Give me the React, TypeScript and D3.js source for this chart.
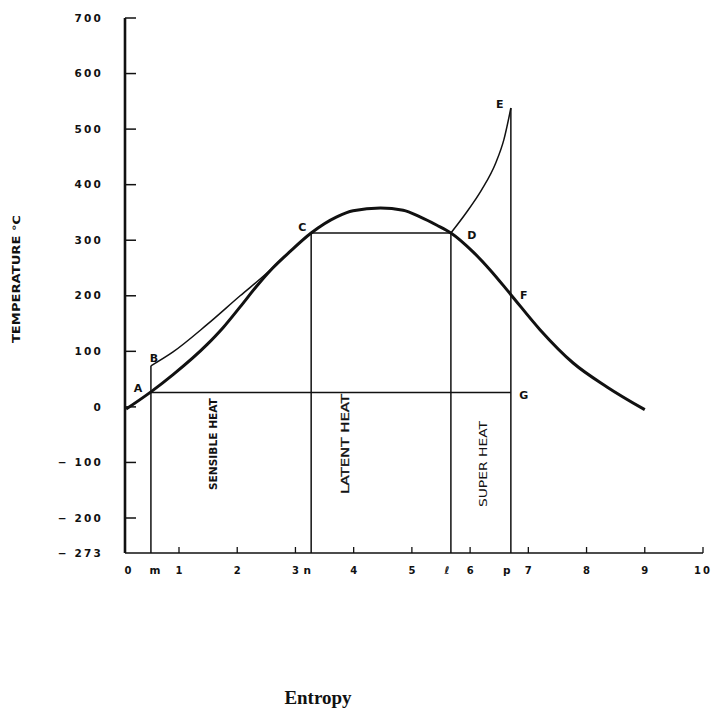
import React from 'react';
import * as d3 from 'd3';

// axis ticks
const yTickValues = [700, 600, 500, 400, 300, 200, 100, 0, -100, -200, -273];
const yTickLabels = ['700', '600', '500', '400', '300', '200', '100', '0', '− 100', '− 200', '− 273'];
const xTickValues = [0, 1, 2, 3, 4, 5, 6, 7, 8, 9, 10];
const xTickLabels = ['0', '1', '2', '3', '4', '5', '6', '7', '8', '9', '10'];

// state entropies marked on the axis (m, n, l, p)
const stateLetters = ['m', 'n', 'ℓ', 'p'];
const stateEntropy = [0.48, 3.27, 5.67, 6.7];
const stateTopTemp = [74, 313, 313, 538];

// saturation dome (thick curve)
const domeEntropy = [0.02, 0.48, 0.89, 1.48, 1.76, 2.05, 2.34, 2.61, 2.91, 3.27, 3.71, 3.99, 4.46, 4.85, 5.14, 5.43, 5.67, 6.05, 6.34, 6.7, 7.2, 7.77, 8.35, 9.0];
const domeTemp = [-4, 27, 58, 112, 143, 180, 218, 250, 280, 313, 342, 353, 358, 354, 342, 327, 313, 279, 247, 202, 139, 79, 36, -5];

// heating line from B
const liquidEntropy = [0.48, 0.89, 1.48, 2.05, 2.5, 2.75];
const liquidTemp = [74, 99, 148, 200, 240, 265];

// superheat curve D -> E
const superEntropy = [5.67, 5.93, 6.2, 6.44, 6.58, 6.7];
const superTemp = [313, 349, 391, 439, 481, 538];

// constant-temperature lines
const evapTemp = 26;
const boilTemp = 313;

// lettered points
const pointNames = ['A', 'B', 'C', 'D', 'E', 'F', 'G'];
const pointEntropy = [0.48, 0.48, 3.27, 5.67, 6.7, 6.7, 6.7];
const pointTemp = [26, 74, 313, 313, 538, 202, 26];

// zone captions
const zoneNames = ['SENSIBLE HEAT', 'LATENT HEAT', 'SUPER HEAT'];
const zoneEntropy = [1.58, 3.85, 6.22];
const zoneTemp = [-67, -67, -103];

const sans = '"DejaVu Sans", "Liberation Sans", Arial, sans-serif';
const narrow = '"DejaVu Sans Condensed", "Liberation Sans Narrow", "DejaVu Sans", sans-serif';

export default function App() {
  const width = 721;
  const height = 711;

  const x = d3.scaleLinear().domain([0, 1, 10]).range([125, 179, 703]);
  const y = d3.scaleLinear().domain([-273, -200, 700]).range([553, 518, 18]);

  const zip = (a: number[], b: number[]): [number, number][] => a.map((v, i) => [v, b[i]]);
  const line = d3.line<[number, number]>()
    .x(d => x(d[0]))
    .y(d => y(d[1]))
    .curve(d3.curveMonotoneX);

  const bottom = y(-273);

  // label offsets (px) for the lettered points
  const pointOffset: Record<string, [number, number]> = {
    A: [-13, -4], B: [3, -8], C: [-9, -6], D: [21, 2], E: [-11, -4], F: [13, 0], G: [13, 3],
  };

  return (
    <svg width={width} height={height} style={{position: 'absolute', left: 0, top: 0, background: '#fff'}}>
      {/* y axis */}
      <line x1={x(0)} x2={x(0)} y1={y(700)} y2={bottom} stroke="#111" strokeWidth={2.6} />
      {yTickValues.filter(v => v > -273).map(v => (
        <line key={'yt' + v} x1={x(0)} x2={x(0) + 11} y1={y(v)} y2={y(v)} stroke="#111" strokeWidth={1.5} />
      ))}
      {yTickValues.map((v, i) => (
        <text key={'yl' + v} x={103} y={y(v)} dy="0.35em" textAnchor="end"
          fontFamily={sans} fontWeight="bold" fontSize={10.5} letterSpacing={2.2} fill="#111">
          {yTickLabels[i]}
        </text>
      ))}
      <text transform={`translate(20, ${y(230)}) rotate(-90)`} textAnchor="middle"
        fontFamily={sans} fontWeight="bold" fontSize={10} fill="#111"
        textLength={128} lengthAdjust="spacingAndGlyphs">
        TEMPERATURE ℃
      </text>

      {/* x axis */}
      <line x1={x(0)} x2={x(10)} y1={bottom} y2={bottom} stroke="#111" strokeWidth={1.6} />
      {xTickValues.filter(v => v > 0).map(v => (
        <line key={'xt' + v} x1={x(v)} x2={x(v)} y1={bottom} y2={bottom - 6} stroke="#111" strokeWidth={1.3} />
      ))}
      {xTickValues.map((v, i) => (
        <text key={'xl' + v} x={x(v) + (v === 0 ? 3 : 0)} y={bottom + 21} textAnchor="middle"
          fontFamily={sans} fontWeight="bold" fontSize={10} letterSpacing={v === 10 ? 2 : 0} fill="#111">
          {xTickLabels[i]}
        </text>
      ))}
      {stateLetters.map((s, i) => (
        <text key={'sl' + s} x={x(stateEntropy[i]) + (i === 0 ? 4 : -4)} y={bottom + 21} textAnchor="middle"
          fontFamily={sans} fontWeight="bold" fontSize={10.5} fontStyle={s === 'ℓ' ? 'italic' : 'normal'} fill="#111">
          {s}
        </text>
      ))}

      {/* vertical state lines */}
      {stateEntropy.map((s, i) => (
        <line key={'sv' + i} x1={x(s)} x2={x(s)} y1={bottom} y2={y(stateTopTemp[i])} stroke="#111" strokeWidth={1.5} />
      ))}

      {/* constant temperature lines */}
      <line x1={x(stateEntropy[0])} x2={x(stateEntropy[3])} y1={y(evapTemp)} y2={y(evapTemp)} stroke="#111" strokeWidth={1.4} />
      <line x1={x(stateEntropy[1])} x2={x(stateEntropy[2])} y1={y(boilTemp)} y2={y(boilTemp)} stroke="#111" strokeWidth={1.4} />

      {/* curves */}
      <path d={line(zip(liquidEntropy, liquidTemp)) || ''} fill="none" stroke="#111" strokeWidth={1.5} />
      <path d={line(zip(superEntropy, superTemp)) || ''} fill="none" stroke="#111" strokeWidth={1.5} />
      <path d={line(zip(domeEntropy, domeTemp)) || ''} fill="none" stroke="#111" strokeWidth={3} strokeLinejoin="round" />

      {/* point letters */}
      {pointNames.map((p, i) => (
        <text key={'p' + p} x={x(pointEntropy[i]) + pointOffset[p][0]} y={y(pointTemp[i]) + pointOffset[p][1]}
          dy="0.35em" textAnchor="middle" fontFamily={sans} fontWeight="bold" fontSize={11} fill="#111">
          {p}
        </text>
      ))}

      {/* zone captions */}
      {zoneNames.map((z, i) => (
        <text key={'z' + i} transform={`translate(${x(zoneEntropy[i]) + 4}, ${y(zoneTemp[i])}) rotate(-90)`}
          textAnchor="middle" fontFamily={narrow} fontWeight={i === 0 ? 'bold' : 'normal'} fontSize={10.5} fill="#111"
          stroke={i === 1 ? '#111' : 'none'} strokeWidth={0.3}
          textLength={i === 0 ? 92 : i === 1 ? 100 : 86} lengthAdjust="spacingAndGlyphs">
          {z}
        </text>
      ))}

      {/* title */}
      <text x={318} y={704} textAnchor="middle" fontFamily='"Liberation Serif", "Times New Roman", serif'
        fontWeight="bold" fontSize={19} fill="#111">
        Entropy
      </text>
    </svg>
  );
}
